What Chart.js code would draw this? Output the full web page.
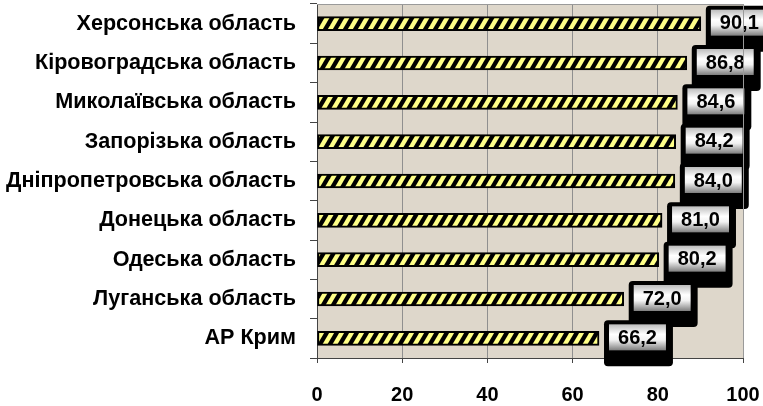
<!DOCTYPE html>
<html>
<head>
<meta charset="utf-8">
<script src="https://cdn.jsdelivr.net/npm/chart.js@4.4.1/dist/chart.umd.min.js"></script>
<style>
  html, body { margin: 0; padding: 0; background: #ffffff; }
  #wrap { width: 763px; height: 406px; position: relative; }
</style>
</head>
<body>
<div id="wrap"><canvas id="chart" width="763" height="406"></canvas></div>
<script>
// Regions, top to bottom
const regions = [
  'Херсонська область',
  'Кіровоградська область',
  'Миколаївська область',
  'Запорізька область',
  'Дніпропетровська область',
  'Донецька область',
  'Одеська область',
  'Луганська область',
  'АР Крим'
];
const values = [90.1, 86.8, 84.6, 84.2, 84.0, 81.0, 80.2, 72.0, 66.2];
const xTicks = [0, 20, 40, 60, 80, 100];

const FONT = '"Liberation Sans", Arial, sans-serif';

// Yellow fill with black diagonal stripes
function stripePattern() {
  const w = 10, h = 17;
  const c = document.createElement('canvas');
  c.width = w; c.height = h;
  const g = c.getContext('2d');
  g.fillStyle = '#ffff88';
  g.fillRect(0, 0, w, h);
  g.fillStyle = '#000000';
  const sw = 5;
  for (const off of [-w, 0, w]) {
    g.beginPath();
    g.moveTo(off, h);
    g.lineTo(off + w, 0);
    g.lineTo(off + w + sw, 0);
    g.lineTo(off + sw, h);
    g.closePath();
    g.fill();
  }
  return document.getElementById('chart').getContext('2d').createPattern(c, 'repeat');
}

const fmt = v => v.toFixed(1).replace('.', ',');

// Plot background and frame
const plotArea = {
  id: 'plotArea',
  beforeDraw(chart) {
    const { ctx, chartArea: a } = chart;
    ctx.save();
    ctx.fillStyle = '#ded7cb';
    ctx.fillRect(a.left, a.top, a.right - a.left, a.bottom - a.top);
    ctx.restore();
  },
  afterDraw(chart) {
    const { ctx, chartArea: a } = chart;
    ctx.save();
    ctx.strokeStyle = '#9a9a9a';
    ctx.lineWidth = 1;
    ctx.beginPath();
    ctx.moveTo(a.left, a.top + 0.5);
    ctx.lineTo(a.right + 0.5, a.top + 0.5);
    ctx.lineTo(a.right + 0.5, a.bottom);
    ctx.stroke();
    ctx.restore();
  }
};

// Value boxes at the end of each bar
const valueBoxes = {
  id: 'valueBoxes',
  afterDatasetsDraw(chart) {
    const { ctx } = chart;
    const meta = chart.getDatasetMeta(0);
    ctx.save();
    ctx.font = 'bold 20px ' + FONT;
    meta.data.forEach((bar, i) => {
      const text = fmt(values[i]);
      const tw = ctx.measureText(text).width;
      const w = tw + 18, h = 26;
      const x0 = bar.x + 10;
      const y0 = bar.y - h / 2 - 1;
      // black frame with heavy lower edge
      ctx.fillStyle = '#000000';
      ctx.beginPath();
      ctx.roundRect(x0 - 5, y0 - 4, w + 12, h + 20, 4);
      ctx.fill();
      // metallic face
      const gr = ctx.createLinearGradient(0, y0, 0, y0 + h);
      gr.addColorStop(0, '#bdbdbd');
      gr.addColorStop(0.38, '#ffffff');
      gr.addColorStop(0.6, '#f2f2f2');
      gr.addColorStop(1, '#7e7e7e');
      ctx.fillStyle = gr;
      ctx.fillRect(x0, y0, w, h);
      ctx.fillStyle = '#000000';
      ctx.textAlign = 'center';
      ctx.textBaseline = 'middle';
      ctx.fillText(text, x0 + w / 2, y0 + h / 2 + 1);
    });
    ctx.restore();
  }
};

new Chart(document.getElementById('chart'), {
  type: 'bar',
  data: {
    labels: regions,
    datasets: [{
      data: values,
      backgroundColor: stripePattern(),
      borderColor: '#000000',
      borderWidth: 2,
      borderSkipped: false,
      barThickness: 14
    }]
  },
  options: {
    indexAxis: 'y',
    responsive: false,
    animation: false,
    layout: { padding: { top: 4, right: 20, left: 0, bottom: 0 } },
    plugins: { legend: { display: false }, tooltip: { enabled: false } },
    scales: {
      x: {
        min: 0, max: 100,
        afterBuildTicks(scale) { scale.ticks = xTicks.map(v => ({ value: v })); },
        afterFit(scale) {
          scale.height = 48;
          scale.paddingLeft = 0; scale.paddingRight = 0;
        },
        ticks: {
          color: '#000000',
          padding: 20,
          font: { family: FONT, size: 20, weight: 'bold' }
        },
        grid: { color: '#8f8f8f', lineWidth: 1, tickLength: 5, tickColor: '#444444' },
        border: { display: true, color: '#444444', width: 1 }
      },
      y: {
        afterFit(scale) {
          scale.width = 317;
          scale.paddingTop = 0; scale.paddingBottom = 0;
        },
        ticks: {
          color: '#000000',
          padding: 14,
          font: { family: FONT, size: 21.6, weight: 'bold' }
        },
        grid: { offset: true, drawOnChartArea: false, tickLength: 7, color: '#444444' },
        border: { display: true, color: '#444444', width: 1 }
      }
    }
  },
  plugins: [plotArea, valueBoxes]
});
</script>
</body>
</html>
